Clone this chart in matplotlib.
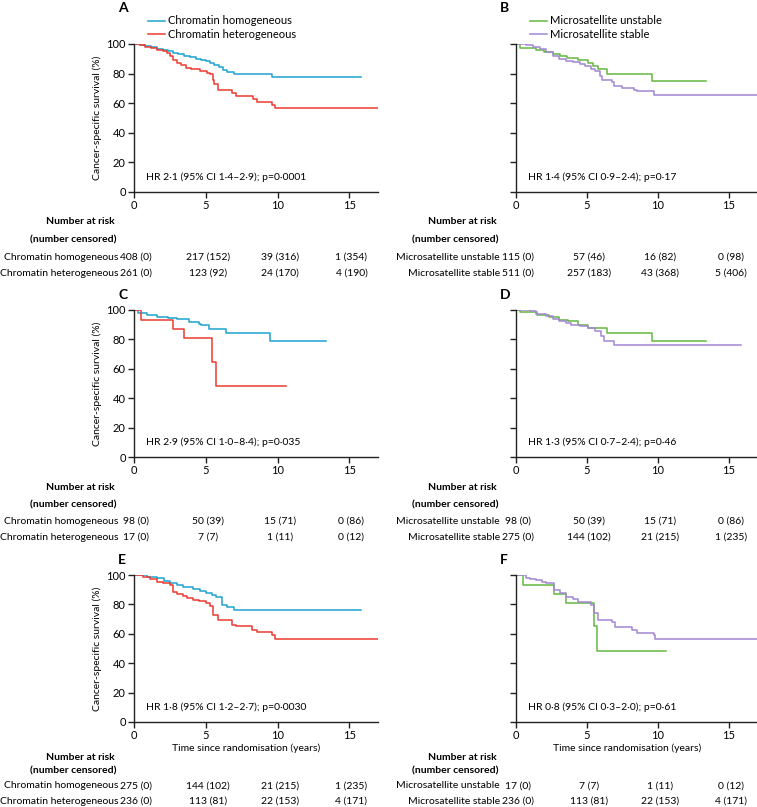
import matplotlib
matplotlib.use("Agg")
import matplotlib.pyplot as plt
import matplotlib.transforms as mtransforms

plt.rcParams["font.family"] = ["Lato", "DejaVu Sans"]
plt.rcParams["font.size"] = 7.5

BLUE = "#1ea3cf"
RED = "#ec3a30"
GREEN = "#62b83e"
PURPLE = "#a286d4"

# step curves: (time in years, survival %) after each drop
a_homo_t = [0, 0.4, 0.8, 1.2, 1.6, 2.0, 2.4, 2.7, 3.1, 3.5, 3.9, 4.3, 4.7, 5.0, 5.3, 5.6, 5.9, 6.2, 6.5, 7.0, 9.6]
a_homo_s = [100, 99.3, 98.6, 97.8, 96.8, 96.0, 95.0, 93.9, 93.0, 92.0, 91.2, 90.0, 89.0, 88.2, 87.2, 86.0, 84.2, 82.6, 81.4, 80.0, 77.6]
a_homo_end = 15.8
a_het_t = [0, 0.4, 0.8, 1.2, 1.6, 2.0, 2.3, 2.5, 2.7, 3.0, 3.3, 3.65, 4.0, 4.6, 5.1, 5.3, 5.5, 5.6, 5.85, 6.8, 7.1, 8.3, 8.6, 9.6, 9.8]
a_het_s = [100, 99.0, 98.0, 97.0, 96.0, 95.0, 94.0, 92.0, 89.5, 87.5, 85.5, 84.0, 83.0, 82.0, 80.5, 79.5, 75.5, 73.0, 69.0, 67.0, 65.0, 63.0, 61.0, 58.5, 57.0]
a_het_end = 17

b_msi_t = [0, 0.3, 1.4, 2.0, 2.6, 3.1, 3.6, 4.4, 5.1, 5.4, 5.8, 6.4, 9.6]
b_msi_s = [100, 97.3, 95.7, 94.3, 93.0, 92.0, 90.8, 89.0, 87.4, 85.1, 82.8, 80.0, 75.1]
b_msi_end = 13.4
b_mss_t = [0, 0.7, 1.2, 1.7, 2.1, 2.6, 3.0, 3.5, 4.0, 4.5, 4.9, 5.3, 5.6, 5.9, 6.1, 6.8, 6.9, 7.5, 8.3, 8.5, 9.7]
b_mss_s = [100, 99.5, 98.3, 96.6, 94.5, 92.0, 90.2, 88.6, 87.6, 86.4, 85.0, 83.4, 81.6, 78.5, 76.0, 74.0, 71.3, 70.0, 68.8, 68.3, 65.8]
b_mss_end = 17

c_homo_t = [0, 0.3, 0.9, 1.6, 2.4, 3.0, 3.8, 4.5, 4.7, 5.2, 6.4, 9.5]
c_homo_s = [100, 98.0, 96.4, 95.5, 94.6, 93.9, 91.8, 90.5, 89.6, 87.3, 84.4, 79.0]
c_homo_end = 13.4
c_het_t = [0, 0.5, 2.7, 3.5, 5.4, 5.7]
c_het_s = [100, 93.4, 87.3, 80.7, 64.6, 48.5]
c_het_end = 10.6

d_msi_t = [0, 0.3, 1.5, 2.3, 3.0, 3.7, 4.4, 5.1, 6.4, 9.6]
d_msi_s = [100, 98.4, 96.8, 95.0, 93.4, 92.3, 90.0, 87.8, 84.4, 79.0]
d_msi_end = 13.4
d_mss_t = [0, 1.0, 1.4, 2.1, 2.6, 3.0, 3.5, 3.9, 4.5, 5.1, 5.6, 6.0, 6.2, 6.9]
d_mss_s = [100, 99.5, 97.3, 95.7, 94.0, 92.3, 91.0, 90.0, 89.0, 87.8, 85.5, 82.1, 78.7, 76.4]
d_mss_end = 15.9

e_homo_t = [0, 0.9, 1.6, 2.1, 2.5, 3.0, 3.4, 4.1, 4.6, 5.0, 5.4, 5.7, 6.1, 6.5, 7.0]
e_homo_s = [100, 98.9, 97.7, 96.0, 94.4, 93.0, 92.1, 90.3, 89.0, 87.6, 86.5, 85.3, 79.7, 78.0, 76.3]
e_homo_end = 15.8
e_het_t = [0, 0.65, 1.1, 1.6, 2.0, 2.5, 2.7, 3.0, 3.4, 3.7, 4.1, 4.5, 5.0, 5.3, 5.5, 5.85, 6.8, 7.1, 8.2, 8.6, 9.6, 9.8]
e_het_s = [100, 98.4, 97.0, 95.5, 94.3, 93.2, 88.7, 87.3, 86.0, 84.5, 83.0, 82.0, 80.8, 78.6, 73.0, 69.5, 66.1, 65.0, 62.8, 61.2, 59.4, 56.4]
e_het_end = 17

f_msi_t = [0, 0.5, 2.7, 3.5, 5.5, 5.7]
f_msi_s = [100, 93.2, 87.1, 80.8, 65.0, 48.5]
f_msi_end = 10.6
f_mss_t = [0, 0.7, 1.0, 1.4, 1.8, 2.1, 2.7, 3.1, 3.5, 4.0, 4.4, 5.3, 5.5, 5.8, 6.8, 7.0, 8.2, 8.5, 9.7, 9.8]
f_mss_s = [100, 98.2, 97.4, 96.6, 95.5, 94.4, 89.8, 87.5, 85.3, 83.5, 81.9, 79.7, 74.0, 69.5, 67.9, 64.3, 62.7, 60.4, 59.3, 56.4]
f_mss_end = 17

risk_times = [0, 5, 10, 15]
a_rows = ["Chromatin homogeneous", "Chromatin heterogeneous"]
a_risk = [["408 (0)", "217 (152)", "39 (316)", "1 (354)"],
          ["261 (0)", "123 (92)", "24 (170)", "4 (190)"]]
b_rows = ["Microsatellite unstable", "Microsatellite stable"]
b_risk = [["115 (0)", "57 (46)", "16 (82)", "0 (98)"],
          ["511 (0)", "257 (183)", "43 (368)", "5 (406)"]]
c_rows = a_rows
c_risk = [["98 (0)", "50 (39)", "15 (71)", "0 (86)"],
          ["17 (0)", "7 (7)", "1 (11)", "0 (12)"]]
d_rows = b_rows
d_risk = [["98 (0)", "50 (39)", "15 (71)", "0 (86)"],
          ["275 (0)", "144 (102)", "21 (215)", "1 (235)"]]
e_rows = a_rows
e_risk = [["275 (0)", "144 (102)", "21 (215)", "1 (235)"],
          ["236 (0)", "113 (81)", "22 (153)", "4 (171)"]]
f_rows = b_rows
f_risk = [["17 (0)", "7 (7)", "1 (11)", "0 (12)"],
          ["236 (0)", "113 (81)", "22 (153)", "4 (171)"]]

hr_text = {
    "A": "HR 2·1 (95% CI 1·4–2·9); p=0·0001",
    "B": "HR 1·4 (95% CI 0·9–2·4); p=0·17",
    "C": "HR 2·9 (95% CI 1·0–8·4); p=0·035",
    "D": "HR 1·3 (95% CI 0·7–2·4); p=0·46",
    "E": "HR 1·8 (95% CI 1·2–2·7); p=0·0030",
    "F": "HR 0·8 (95% CI 0·3–2·0); p=0·61",
}

W, H = 757, 807
fig = plt.figure(figsize=(W / 100, H / 100), dpi=100)


def px_axes(left, top, right, bottom):
    return fig.add_axes([left / W, 1 - bottom / H, (right - left) / W, (bottom - top) / H])


def step(ax, t, s, end, color):
    ax.step(t + [end], s + [s[-1]], where="post", color=color, lw=1.1)


def setup(ax, letter, left_col, letter_y, xlabel=False):
    ax.set_xlim(0, 17)
    ax.set_ylim(0, 100)
    ax.set_xticks([0, 5, 10, 15])
    ax.set_yticks([0, 20, 40, 60, 80, 100])
    for sp in ["top", "right"]:
        ax.spines[sp].set_visible(False)
    for sp in ["left", "bottom"]:
        ax.spines[sp].set_linewidth(1.0)
        ax.spines[sp].set_color("#222222")
    ax.tick_params(direction="out", length=4, width=1.0, color="#222222", labelsize=8, pad=2)
    if left_col:
        ax.set_ylabel("Cancer-specific survival (%)", fontsize=7.5, labelpad=3)
    else:
        ax.tick_params(axis="y", labelleft=False)
    if xlabel:
        ax.set_xlabel("Time since randomisation (years)", fontsize=7.5, labelpad=3)
        ax.xaxis.set_label_coords(0.46, -0.145)
    ax.text(0.05, 0.1, hr_text[letter], transform=ax.transAxes, fontsize=7.5, va="center")
    ax.text(-0.065, letter_y, letter, transform=ax.transAxes, fontsize=10, fontweight="bold",
            ha="left", va="center")


def risk_table(ax, rows, risk, ys, label_right):
    tr = mtransforms.blended_transform_factory(ax.transData, fig.transFigure)
    fig.text(label_right / W, 1 - ys[0] / H, "Number at risk", ha="right", va="center",
             fontsize=7.5, fontweight="bold")
    fig.text((label_right + 1) / W, 1 - ys[1] / H, "(number censored)", ha="right",
             va="center", fontsize=7.5, fontweight="bold")
    for i, (name, vals) in enumerate(zip(rows, risk)):
        yy = 1 - ys[2 + i] / H
        fig.text((ax.get_position().x0 * W - 16) / W, yy, name, ha="right", va="center", fontsize=7.5)
        for t, v in zip(risk_times, vals):
            ax.text(t + 0.15, yy, v, transform=tr, ha="center", va="center", fontsize=7.5)


top_ys = [222, 240, 257, 273]
mid_ys = [487, 505, 521, 537]
bot_ys = [757, 771, 786, 801]

panels = [
    ("A", 134, 44, 378, 192, True, [(a_homo_t, a_homo_s, a_homo_end, BLUE), (a_het_t, a_het_s, a_het_end, RED)], a_rows, a_risk, top_ys, 1.245),
    ("B", 516, 44, 757, 192, False, [(b_msi_t, b_msi_s, b_msi_end, GREEN), (b_mss_t, b_mss_s, b_mss_end, PURPLE)], b_rows, b_risk, top_ys, 1.245),
    ("C", 134, 310, 378, 457, True, [(c_homo_t, c_homo_s, c_homo_end, BLUE), (c_het_t, c_het_s, c_het_end, RED)], c_rows, c_risk, mid_ys, 1.10),
    ("D", 516, 310, 757, 457, False, [(d_msi_t, d_msi_s, d_msi_end, GREEN), (d_mss_t, d_mss_s, d_mss_end, PURPLE)], d_rows, d_risk, mid_ys, 1.10),
    ("E", 134, 575, 378, 722, True, [(e_homo_t, e_homo_s, e_homo_end, BLUE), (e_het_t, e_het_s, e_het_end, RED)], e_rows, e_risk, bot_ys, 1.10),
    ("F", 516, 575, 757, 722, False, [(f_msi_t, f_msi_s, f_msi_end, GREEN), (f_mss_t, f_mss_s, f_mss_end, PURPLE)], f_rows, f_risk, bot_ys, 1.10),
]

for letter, l, t, r, b, left_col, curves, rows, risk, ys, letter_y in panels:
    ax = px_axes(l, t, r, b)
    for ct, cs, cend, col in curves:
        step(ax, ct, cs, cend, col)
    setup(ax, letter, left_col, letter_y, xlabel=letter in "EF")
    risk_table(ax, rows, risk, ys, l - 19)

    if letter in "AB":
        cols = [curves[0][3], curves[1][3]]
        for i, (nm, col) in enumerate(zip(rows, cols)):
            yy = 1 - (21 + 13 * i) / H
            x0 = (l + 14) / W
            fig.add_artist(plt.Line2D([x0, x0 + 17 / W], [yy, yy], color=col, lw=1.1))
            fig.text(x0 + 20 / W, yy, nm, fontsize=8, va="center")

fig.savefig("out.png", dpi=100)
